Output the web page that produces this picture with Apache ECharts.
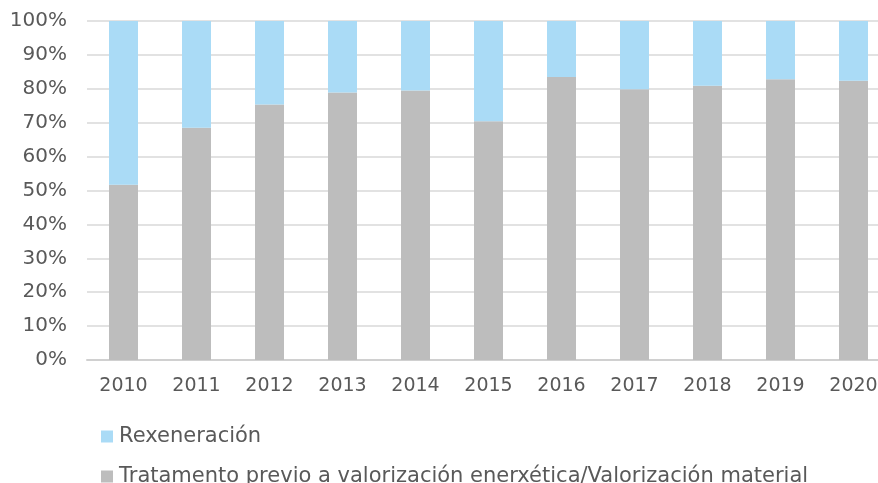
<!DOCTYPE html>
<html>
<head>
<meta charset="utf-8">
<script src="https://cdn.jsdelivr.net/npm/echarts@6/dist/echarts.min.js"></script>
<style>
  html, body { margin: 0; padding: 0; background: #fff; }
  #main { width: 878px; height: 483px; }
</style>
</head>
<body>
<div id="main"></div>
<script>
    var years = ['2010', '2011', '2012', '2013', '2014', '2015', '2016', '2017', '2018', '2019', '2020'];
    var tratamento = [51.7, 68.5, 75.4, 78.9, 79.5, 70.4, 83.5, 79.9, 80.9, 82.8, 82.4];
    var rexeneracion = [48.3, 31.5, 24.6, 21.1, 20.5, 29.6, 16.5, 20.1, 19.1, 17.2, 17.6];

    var nameRex = 'Rexeneración';
    var nameTrat = 'Tratamento previo a valorización enerxética/Valorización material';
    var font = 'DejaVu Sans';

    var chartDom = document.getElementById('main');
    var myChart = echarts.init(chartDom);
    var option;

    var legendText = { fontSize: 21, color: '#595959', fontFamily: font, padding: [0, 0, 0, 1] };

    option = {
        animation: false,
        textStyle: { fontFamily: font },
        grid: {
            left: 87,
            top: 21,
            width: 803,
            height: 339,
            outerBoundsMode: 'none',
            containLabel: false
        },
        legend: [
            {
                left: 96,
                top: 421,
                itemWidth: 12,
                itemHeight: 12,
                icon: 'rect',
                textStyle: legendText,
                data: [nameRex]
            },
            {
                left: 96,
                top: 461,
                itemWidth: 12,
                itemHeight: 12,
                icon: 'rect',
                textStyle: legendText,
                data: [nameTrat]
            }
        ],
        xAxis: {
            type: 'category',
            data: years,
            axisTick: { show: false },
            axisLine: { lineStyle: { color: '#d0d0d0', width: 2 } },
            axisLabel: { fontSize: 19, color: '#595959', margin: 17, fontFamily: font }
        },
        yAxis: {
            type: 'value',
            min: 0,
            max: 100,
            interval: 10,
            axisLabel: {
                fontSize: 20,
                color: '#595959',
                margin: 20,
                fontFamily: font,
                formatter: '{value}%'
            },
            splitLine: { lineStyle: { color: '#d9d9d9', width: 1.5 } }
        },
        series: [
            {
                name: nameTrat,
                type: 'bar',
                stack: 'total',
                barWidth: 29,
                itemStyle: { color: '#bdbdbd' },
                data: tratamento
            },
            {
                name: nameRex,
                type: 'bar',
                stack: 'total',
                barWidth: 29,
                itemStyle: { color: '#aadbf6' },
                data: rexeneracion
            }
        ]
    };

    option && myChart.setOption(option);
</script>
</body>
</html>
